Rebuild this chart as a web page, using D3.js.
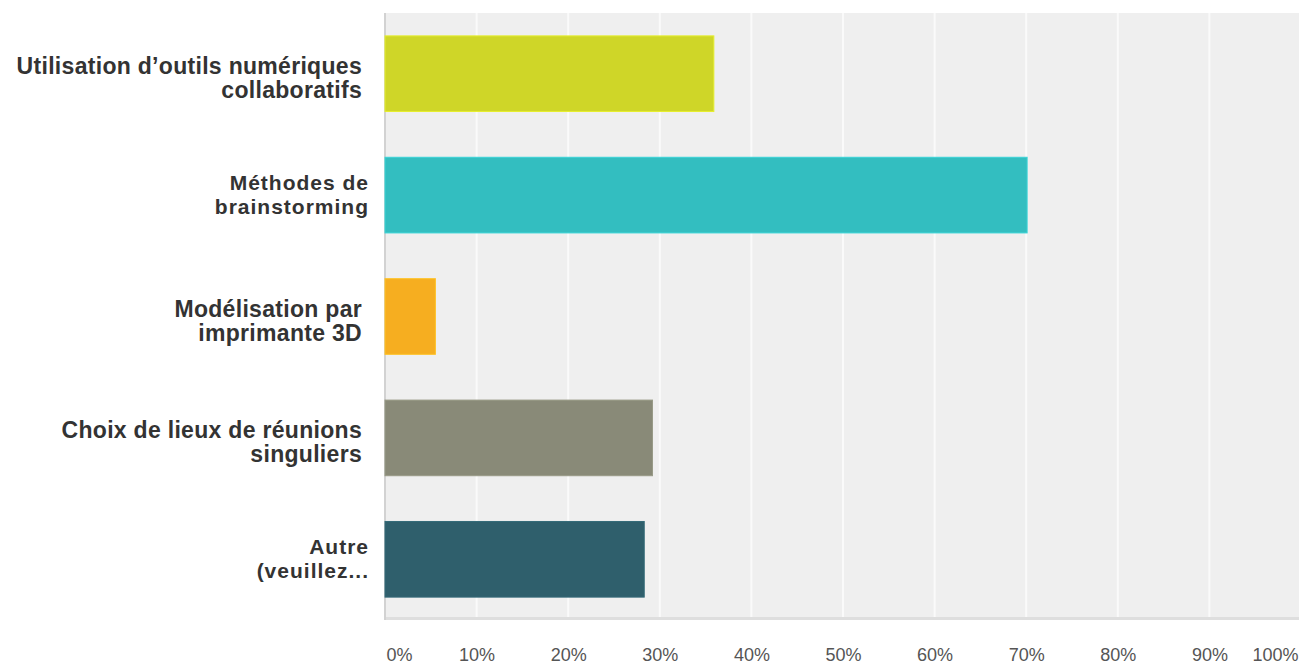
<!DOCTYPE html>
<html>
<head>
<meta charset="utf-8">
<script src="https://cdn.jsdelivr.net/npm/d3@7"></script>
<style>
  body { margin: 0; background: #fff; }
  svg { display: block; font-family: "Liberation Sans", Arial, sans-serif; }
</style>
</head>
<body>
<svg id="chart"></svg>
<script>
// Data
const categories = [
  ["Utilisation d’outils numériques", "collaboratifs"],
  ["Méthodes de", "brainstorming"],
  ["Modélisation par", "imprimante 3D"],
  ["Choix de lieux de réunions", "singuliers"],
  ["Autre", "(veuillez..."]
];
const values = [0.359, 0.701, 0.055, 0.292, 0.283];
const colors = ["#cfd628", "#33bec0", "#f6ae20", "#898a78", "#2f5f6c"];
const ticks = [0, 0.1, 0.2, 0.3, 0.4, 0.5, 0.6, 0.7, 0.8, 0.9, 1.0];

const W = 1299, H = 667;
const margin = { top: 13, left: 385, bottom: 47 };
const plotW = 916;
const plotH = H - margin.top - margin.bottom;

const svg = d3.select("#chart").attr("width", W).attr("height", H);

const x = d3.scaleLinear().domain([0, 1]).range([margin.left, margin.left + plotW]);
const y = d3.scaleBand()
    .domain(d3.range(categories.length))
    .range([margin.top, margin.top + plotH])
    .paddingInner(0.377)
    .paddingOuter(0.1885);

// plot background
svg.append("rect")
    .attr("x", margin.left).attr("y", margin.top)
    .attr("width", plotW).attr("height", plotH)
    .attr("fill", "#efefef");

// bottom and left borders
svg.append("rect")
    .attr("x", margin.left).attr("y", margin.top + plotH - 3)
    .attr("width", plotW).attr("height", 3)
    .attr("fill", "#dedede");
svg.append("rect")
    .attr("x", margin.left - 1).attr("y", margin.top)
    .attr("width", 2).attr("height", plotH)
    .attr("fill", "#d2d2d2");

// grid lines
svg.append("g").selectAll("line")
  .data(ticks.slice(1))
  .enter().append("line")
    .attr("x1", d => x(d)).attr("x2", d => x(d))
    .attr("y1", margin.top).attr("y2", margin.top + plotH - 3)
    .attr("stroke", "#fafafa").attr("stroke-width", 2);

// bars
svg.append("g").selectAll("rect")
  .data(values)
  .enter().append("rect")
    .attr("x", x(0))
    .attr("y", (d, i) => y(i))
    .attr("width", d => x(d) - x(0))
    .attr("height", y.bandwidth())
    .attr("fill", (d, i) => colors[i])
    .attr("stroke", (d, i) => d3.color(colors[i]).brighter(0.3))
    .attr("stroke-width", 1);

// category labels (two of them are drawn in a smaller, spaced style)
const smaller = new Set([1, 4]);
const labels = svg.append("g").selectAll("text")
  .data(categories)
  .enter().append("text")
    .attr("text-anchor", "end")
    .attr("fill", "#333")
    .attr("font-weight", "bold")
    .attr("font-size", (d, i) => smaller.has(i) ? 21 : 23)
    .attr("letter-spacing", (d, i) => smaller.has(i) ? 1 : 0.3)
    .attr("transform", (d, i) => {
      const c = y(i) + y.bandwidth() / 2;
      return smaller.has(i) ? `translate(369,${c - 5})` : `translate(362,${c})`;
    });
labels.selectAll("tspan")
  .data(d => d)
  .enter().append("tspan")
    .attr("x", 0)
    .attr("dy", (d, i) => i === 0 ? 0 : 24)
    .text(d => d);

// x axis labels
const axis = svg.append("g")
    .attr("transform", `translate(0,${margin.top + plotH})`)
    .call(d3.axisBottom(x).tickValues(ticks).tickSize(0).tickPadding(0)
      .tickFormat(d => Math.round(d * 100) + "%"));
axis.select(".domain").remove();
axis.selectAll("text")
    .attr("font-family", "Liberation Sans, Arial, sans-serif")
    .attr("font-size", 18)
    .attr("fill", "#555")
    .attr("dy", null)
    .attr("y", 41)
    .attr("text-anchor", d => d === 0 ? "start" : (d === 1 ? "end" : "middle"))
    .attr("dx", d => d === 0 ? 1 : (d === 1 ? -3 : 0));
</script>
</body>
</html>
